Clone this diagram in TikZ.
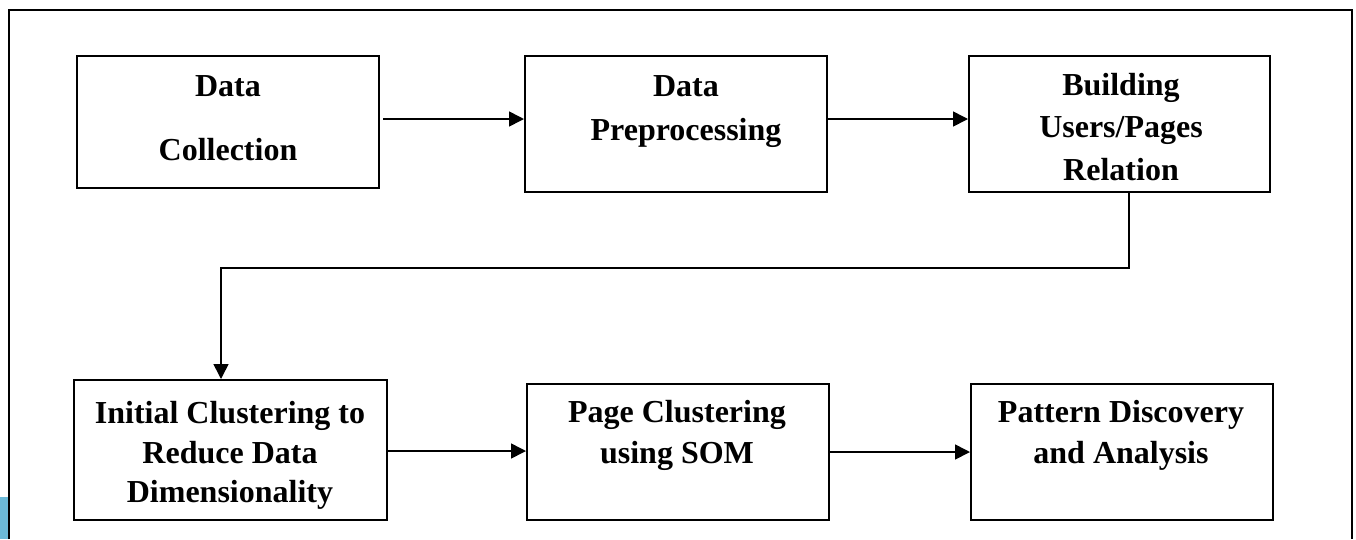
\documentclass[tikz,border=0pt]{standalone}
\usepackage{fontspec}
\setmainfont{Liberation Serif}
\usetikzlibrary{arrows.meta}
\definecolor{stripblue}{RGB}{108,186,216}
\tikzset{
  stagebox/.style={draw, line width=2pt, inner sep=0pt},
  stagetext/.style={anchor=base, inner sep=0pt, font=\bfseries\fontsize{32}{40}\selectfont},
  flow/.style={line width=1.6pt, -{Triangle[length=15pt,width=15pt]}},
  frame/.style={line width=2.4pt},
}
\begin{document}
\begin{tikzpicture}[x=1pt,y=-1pt]
\useasboundingbox (0,0) rectangle (1356,539);

% page frame and side tab
\fill[stripblue] (0,497) rectangle (8,539);
\draw[frame] (9,539) -- (9,10) -- (1352,10) -- (1352,539);

% stage boxes
\node[stagebox, minimum width=302pt, minimum height=132pt] (b1) at (228,122) {};
\node[stagebox, minimum width=302pt, minimum height=136pt] (b2) at (676,124) {};
\node[stagebox, minimum width=301pt, minimum height=136pt] (b3) at (1119.5,124) {};
\node[stagebox, minimum width=313pt, minimum height=140pt] (b4) at (230.5,450) {};
\node[stagebox, minimum width=302pt, minimum height=136pt] (b5) at (678,452) {};
\node[stagebox, minimum width=302pt, minimum height=136pt] (b6) at (1122,452) {};

% box labels, one node per line
\node[stagetext] (b1a) at (228,96) {Data};
\node[stagetext] (b1b) at (228,160) {Collection};
\node[stagetext] (b2a) at (686,96) {Data};
\node[stagetext] (b2b) at (686,140) {Preprocessing};
\node[stagetext] (b3a) at (1121,95) {Building};
\node[stagetext] (b3b) at (1121,137) {Users/Pages};
\node[stagetext] (b3c) at (1121,180) {Relation};
\node[stagetext] (b4a) at (230,423) {Initial Clustering to};
\node[stagetext] (b4b) at (230,463) {Reduce Data};
\node[stagetext] (b4c) at (230,502) {Dimensionality};
\node[stagetext] (b5a) at (677,422) {Page Clustering};
\node[stagetext] (b5b) at (677,463) {using SOM};
\node[stagetext] (b6a) at (1121,422) {Pattern Discovery};
\node[stagetext] (b6b) at (1121,463) {and Analysis};

% connectors
\draw[flow] ([xshift=3pt]b1.east |- 0,119) -- (b2.west |- 0,119);
\draw[flow] (b2.east |- 0,119) -- (b3.west |- 0,119);
\draw[flow] (b3.south -| 1129,0) -- (1129,268) -- (221,268) -- (b4.north -| 221,0);
\draw[flow] (b4.east |- 0,451) -- (b5.west |- 0,451);
\draw[flow] (b5.east |- 0,452) -- (b6.west |- 0,452);
\end{tikzpicture}
\end{document}
